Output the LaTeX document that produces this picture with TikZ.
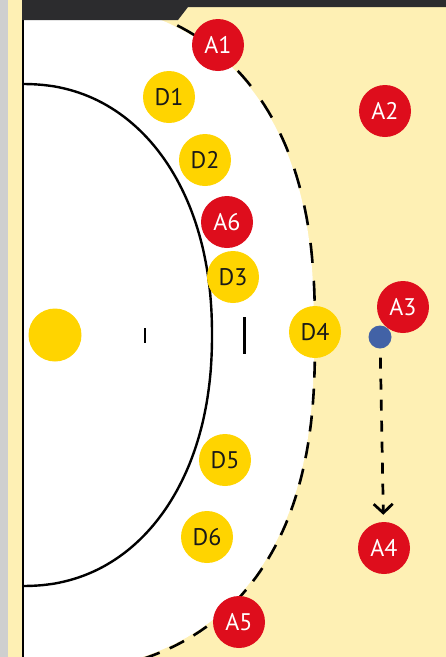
\documentclass[tikz,border=0pt]{standalone}
\usepackage{fontspec}
\setmainfont{PT Sans}
\usetikzlibrary{arrows.meta}
\definecolor{court}{HTML}{FEF0B4}
\definecolor{redp}{HTML}{DE0D1C}
\definecolor{yelp}{HTML}{FFD400}
\definecolor{ballc}{HTML}{4262A6}
\definecolor{darkbar}{HTML}{2C2C2E}
\definecolor{strip}{HTML}{CFCFCF}
\begin{document}
\begin{tikzpicture}[x=1pt,y=-1pt,
  player/.style={circle, minimum size=52pt, inner sep=0pt, font=\fontsize{24}{28}\selectfont},
  att/.style={player, fill=redp, text=white},
  dfd/.style={player, fill=yelp, text=black!90},
  gkeeper/.style={circle, minimum size=53pt, inner sep=0pt, fill=yelp},
  ballnode/.style={circle, minimum size=23pt, inner sep=0pt, fill=ballc},
  sixline/.style={line width=2.4pt, black},
  nineline/.style={line width=2.6pt, black},
  passline/.style={line width=2.7pt, black, dash pattern=on 11pt off 10pt, -{Straight Barb[length=9pt,width=19pt]}},
  markline/.style={black}
]
\useasboundingbox (0,0) rectangle (446,657);
\fill[court] (0,0) rectangle (446,657);
\fill[strip] (0,0) rectangle (8,657);
\begin{scope}
  \clip (23,20) rectangle (446,657);
  \fill[white] (23,690) -- plot[domain=-89.5:89.5, samples=120, variable=\t]
    ({23+291*pow(cos(\t),0.8)}, {335-337*sin(\t)*pow(abs(sin(\t)),-0.2)}) -- (23,-20) -- cycle;
  \draw[nineline, dash pattern=on 20pt off 18pt] plot[domain=89.5:0.2, samples=60, variable=\t]
    ({23+292*pow(cos(\t),0.8)}, {335-339*sin(\t)*pow(abs(sin(\t)),-0.2)});
  \draw[nineline, dash pattern=on 16pt off 11pt, dash phase=4pt] plot[domain=-0.2:-89.5, samples=60, variable=\t]
    ({23+292*pow(cos(\t),0.8)}, {335-339*sin(\t)*pow(abs(sin(\t)),-0.2)});
\end{scope}
\fill[darkbar] (22,0) -- (446,0) -- (446,7) -- (188,7) -- (178,20) -- (22,20) -- cycle;
\draw[line width=2.2pt] (23,20) -- (23,657);
\draw[sixline] (23,586) -- plot[domain=-89.5:89.5, samples=120, variable=\t]
    ({23+189*pow(cos(\t),0.93)}, {335-251*sin(\t)*pow(abs(sin(\t)),-0.07)}) -- (23,84);
\draw[markline, line width=2.7pt] (145,328) -- (145,343);
\draw[markline, line width=3pt] (244,317) -- (244,354);
\node[gkeeper] (gk) at (55,335) {};
\node[att] (a1) at (218,45) {A1};
\node[att] (a2) at (385,111) {A2};
\node[att] (a3) at (403,307) {A3};
\node[att] (a4) at (384,548) {A4};
\node[att] (a5) at (239,622) {A5};
\node[dfd] (d1) at (169,97) {D1};
\node[dfd] (d2) at (205,160) {D2};
\node[att] (a6) at (227,222) {A6};
\node[dfd] (d3) at (233,277) {D3};
\node[dfd] (d4) at (315,332) {D4};
\node[dfd] (d5) at (225,460) {D5};
\node[dfd] (d6) at (207,537) {D6};
\node[ballnode] (ball) at (380,337) {};
\draw[passline, shorten <=9pt, shorten >=7pt] (ball) -- (a4);
\end{tikzpicture}
\end{document}
